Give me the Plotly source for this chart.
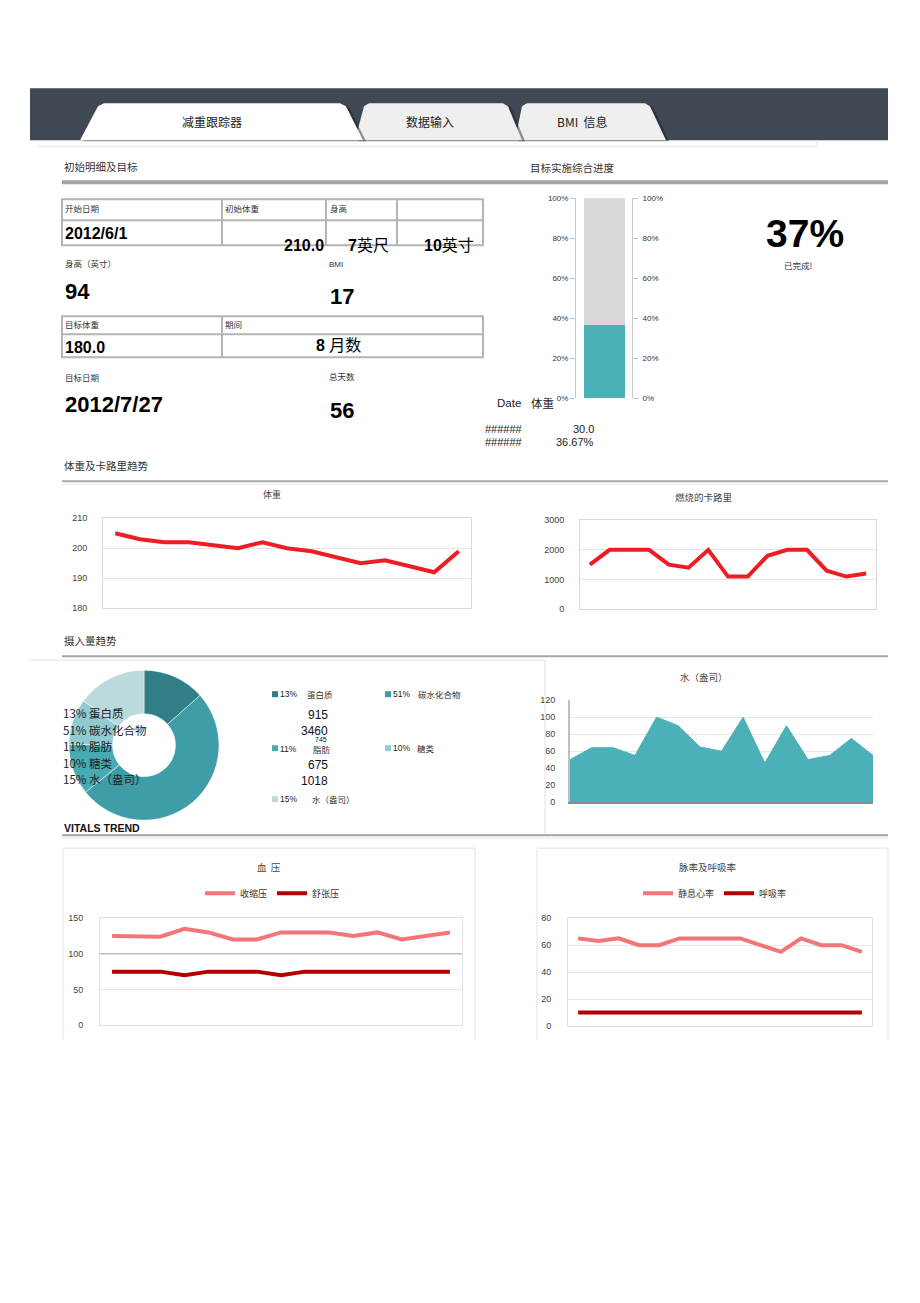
import plotly.graph_objects as go

W, H = 920, 1303
# small vertical calibration so the rendered page lines up with the reference pixels
VA, VB = 0.9925, 4.7
def X(p): return p / W
def Y(p): return 1 - ((p - VB) / VA) / H

LAT = "Liberation Sans, Arial, Noto Sans CJK SC, sans-serif"
CJK = "Noto Sans CJK SC, Liberation Sans, sans-serif"

# ---------------- data ----------------
progress_done = 36.67
progress_left = 100 - progress_done
pct_ticks = [0, 20, 40, 60, 80, 100]
pct_text = ["0%", "20%", "40%", "60%", "80%", "100%"]

day_idx = list(range(15))
weight = [205, 203, 202, 202, 201, 200, 202, 200, 199, 197, 195, 196, 194, 192, 199]
calories = [1500, 2000, 2000, 2000, 1500, 1400, 2000, 1100, 1100, 1800, 2000, 2000, 1300, 1100, 1200]

intake_labels = ["蛋白质", "碳水化合物", "脂肪", "糖类", "水（盎司）"]
intake_values = [915, 3460, 745, 675, 1018]
intake_pct = ["13%", "51%", "11%", "10%", "15%"]
intake_colors = ["#317e86", "#3e9da6", "#48abb4", "#8fcbd0", "#bcd9dd"]

water = [50, 64, 64, 55, 100, 90, 65, 60, 100, 46, 90, 50, 55, 75, 55]
systolic = [125, 125, 124, 135, 130, 120, 120, 130, 130, 130, 125, 130, 120, 125, 130]
diastolic = [75, 75, 75, 70, 75, 75, 75, 70, 75, 75, 75, 75, 75, 75, 75]
heart_rate = [65, 63, 65, 60, 60, 65, 65, 65, 65, 60, 55, 65, 60, 60, 55]
resp_rate = [10, 10, 10, 10, 10, 10, 10, 10, 10, 10, 10, 10, 10, 10, 10]

TEAL = "#4bb0b8"
RED = "#ee1d23"
SALMON = "#f47577"
DARKRED = "#b00000"

fig = go.Figure()

# progress bar
fig.add_trace(go.Bar(x=[0], y=[progress_done], width=0.73, marker=dict(color=TEAL, line=dict(width=0)),
                     xaxis="x", yaxis="y", showlegend=False, hoverinfo="skip"))
fig.add_trace(go.Bar(x=[0], y=[progress_left], width=0.73, marker=dict(color="#d9d9d9", line=dict(width=0)),
                     xaxis="x", yaxis="y", showlegend=False, hoverinfo="skip"))
fig.add_trace(go.Scatter(x=[0], y=[0], mode="markers", marker=dict(opacity=0), xaxis="x", yaxis="y7",
                         showlegend=False, hoverinfo="skip"))

# weight / calories
fig.add_trace(go.Scatter(x=day_idx, y=weight, mode="lines", line=dict(color=RED, width=4),
                         xaxis="x2", yaxis="y2", showlegend=False))
fig.add_trace(go.Scatter(x=day_idx, y=calories, mode="lines", line=dict(color=RED, width=4),
                         xaxis="x3", yaxis="y3", showlegend=False))

# intake donut
fig.add_trace(go.Pie(values=intake_values, labels=intake_labels, hole=0.42, sort=False, direction="clockwise",
                     rotation=0, marker=dict(colors=intake_colors, line=dict(color="white", width=0.5)),
                     textinfo="none", showlegend=False,
                     domain=dict(x=[X(69), X(219)], y=[Y(820), Y(670)])))

# water area
fig.add_trace(go.Scatter(x=day_idx, y=water, mode="lines", fill="tozeroy", fillcolor=TEAL,
                         line=dict(color=TEAL, width=1), xaxis="x4", yaxis="y4", showlegend=False))

# blood pressure
fig.add_trace(go.Scatter(x=day_idx, y=systolic, mode="lines", name="收缩压", line=dict(color=SALMON, width=4),
                         xaxis="x5", yaxis="y5", legend="legend"))
fig.add_trace(go.Scatter(x=day_idx, y=diastolic, mode="lines", name="舒张压", line=dict(color=DARKRED, width=4),
                         xaxis="x5", yaxis="y5", legend="legend"))
# pulse / respiration
fig.add_trace(go.Scatter(x=day_idx, y=heart_rate, mode="lines", name="静息心率", line=dict(color=SALMON, width=4),
                         xaxis="x6", yaxis="y6", legend="legend2"))
fig.add_trace(go.Scatter(x=day_idx, y=resp_rate, mode="lines", name="呼吸率", line=dict(color=DARKRED, width=4),
                         xaxis="x6", yaxis="y6", legend="legend2"))

# ---------------- axes ----------------
def xax(d0, d1, rng, anchor, line=True, lc="#d9d9d9", lw=1, mirror=True):
    return dict(domain=[X(d0), X(d1)], range=rng, anchor=anchor, showticklabels=False, ticks="",
                showgrid=False, zeroline=False, showline=line, linecolor=lc, linewidth=lw, mirror=mirror,
                fixedrange=True)

def yax(top, bottom, rng, dtick, anchor, standoff, lc="#d9d9d9", lw=1, mirror=True, line=True):
    return dict(domain=[Y(bottom), Y(top)], range=rng, dtick=dtick, anchor=anchor, showgrid=True,
                gridcolor="#e6e6e6", gridwidth=1, zeroline=False, showline=line, linecolor=lc, linewidth=lw,
                mirror=mirror, ticks="", ticklabelstandoff=standoff,
                tickfont=dict(size=9, color="#404040", family=LAT), fixedrange=True)

layout_axes = dict(
    xaxis=dict(domain=[X(576), X(632)], range=[-0.509, 0.491], anchor="y", visible=False, fixedrange=True),
    yaxis=dict(domain=[Y(398), Y(198)], range=[0, 100], anchor="x", tickvals=pct_ticks, ticktext=pct_text,
               showline=True, linecolor="#c8c8c8", linewidth=1, ticks="outside", ticklen=5, tickcolor="#c8c8c8",
               showgrid=False, zeroline=False, tickfont=dict(size=8, color="#333", family=LAT), fixedrange=True),
    yaxis7=dict(overlaying="y", side="right", anchor="x", range=[0, 100], tickvals=pct_ticks, ticktext=pct_text,
                showline=True, linecolor="#c8c8c8", linewidth=1, ticks="outside", ticklen=5, tickcolor="#c8c8c8",
                showgrid=False, zeroline=False, ticklabelstandoff=3,
                tickfont=dict(size=8, color="#333", family=LAT), fixedrange=True),
    xaxis2=xax(103, 471, [-0.5, 14.5], "y2"),
    yaxis2=yax(518, 608, [180, 210], 10, "x2", 13),
    xaxis3=xax(580, 876, [-0.5, 14.5], "y3"),
    yaxis3=yax(520, 609, [0, 3000], 1000, "x3", 13),
    xaxis4=xax(570, 873, [0, 14], "y4", lc="#8c8c8c", lw=2, mirror=False),
    yaxis4=yax(700, 802, [0, 120], 20, "x4", 11, lc="#bfbfbf", lw=2, mirror=False),
    xaxis5=xax(100, 462, [-0.5, 14.5], "y5", lc="#e0e0e0"),
    yaxis5=yax(918, 1025, [0, 150], 50, "x5", 14, lc="#e0e0e0"),
    xaxis6=xax(568, 872, [-0.5, 14.5], "y6", lc="#e0e0e0"),
    yaxis6=yax(918, 1026, [0, 80], 20, "x6", 14, lc="#e0e0e0"),
)

# ---------------- shapes ----------------
shapes = []
def line(x0, y0, x1, y1, color, width=1):
    shapes.append(dict(type="line", xref="paper", yref="paper", x0=X(x0), y0=Y(y0), x1=X(x1), y1=Y(y1),
                       line=dict(color=color, width=width)))

def rect(x0, y0, x1, y1, fill="rgba(0,0,0,0)", color="rgba(0,0,0,0)", width=0):
    shapes.append(dict(type="rect", xref="paper", yref="paper", x0=X(x0), y0=Y(y1), x1=X(x1), y1=Y(y0),
                       fillcolor=fill, line=dict(color=color, width=width)))

def poly(pts, fill, color="rgba(0,0,0,0)", width=0):
    p = "M " + " L ".join(f"{X(a):.5f},{Y(b):.5f}" for a, b in pts) + " Z"
    shapes.append(dict(type="path", xref="paper", yref="paper", path=p, fillcolor=fill,
                       line=dict(color=color, width=width)))

# header band & tabs
rect(30, 88, 888, 140, fill="#3e4953")
tab3 = [(515, 140), (522, 106), (527, 103), (645, 103), (650, 106), (666, 140)]
tab2 = [(355, 140), (364, 106), (369, 103), (503, 103), (508, 106), (522, 140)]
tab1 = [(80, 140), (98, 106), (104, 103), (340, 103), (346, 106), (363, 140)]
for t, f in [(tab3, "#efefef"), (tab2, "#efefef"), (tab1, "#ffffff")]:
    poly([(a + 3, b + 1) for a, b in t], "rgba(20,25,30,0.45)")
    poly(t, f)
line(38, 146, 817, 146, "#e3e3e3", 1)
line(817, 140, 817, 146, "#e3e3e3", 1)

# section separators
line(62, 182, 888, 182, "#a6a6a6", 4)
line(62, 481, 888, 481, "#a6a6a6", 2)
line(62, 484, 888, 484, "#e6e6e6", 1)
line(62, 656, 888, 656, "#a6a6a6", 2)
line(30, 660, 545, 660, "#e0e0e0", 1)
line(545, 660, 545, 835, "#e0e0e0", 1)
line(62, 835, 888, 835, "#a6a6a6", 2)
line(62, 838, 888, 838, "#e6e6e6", 1)

# tables
TB = "#b4b4b4"
rect(62, 199, 483, 245, color=TB, width=2)
line(62, 220, 483, 220, TB, 2)
for xv in (222, 326, 397):
    line(xv, 199, xv, 245, TB, 2)
rect(62, 316, 483, 357, color=TB, width=2)
line(62, 334, 483, 334, TB, 2)
line(222, 316, 222, 357, TB, 2)

# chart boxes (vitals)
for x0, x1 in [(63, 475), (537, 888)]:
    line(x0, 848, x1, 848, "#e3e3e3", 1)
    line(x0, 848, x0, 1040, "#e3e3e3", 1)
    line(x1, 848, x1, 1040, "#e3e3e3", 1)
# darker 100 reference line in blood-pressure chart
shapes.append(dict(type="line", xref="x5 domain", yref="y5", x0=0, x1=1, y0=100, y1=100,
                   line=dict(color="#bdbdbd", width=1.5)))

# legend squares for intake
sq_pos = [(272, 694), (385, 694), (272, 748), (385, 748), (272, 799)]
for (sx, sy), c in zip(sq_pos, intake_colors):
    rect(sx, sy - 3, sx + 6, sy + 3, fill=c)

# ---------------- annotations ----------------
ann = []
def txt(x, y, s, size, anchor="left", color="#000", family=CJK):
    ann.append(dict(x=X(x), y=Y(y), xref="paper", yref="paper", text=s, showarrow=False, xanchor=anchor,
                    yanchor="middle", font=dict(size=size, color=color, family=family), borderpad=0))

# tabs
txt(212, 121, "减重跟踪器", 12, "center", "#222")
txt(430, 121, "数据输入", 12, "center", "#222")
txt(582, 121, "BMI  信息", 12, "center", "#222")

# section titles
txt(63, 166, "初始明细及目标", 10.5, color="#333")
txt(529, 167, "目标实施综合进度", 10.5, color="#333")
txt(63, 465, "体重及卡路里趋势", 10.5, color="#333")
txt(63, 640, "摄入量趋势", 10.5, color="#333")

# table 1
SM = "#333"
txt(64, 208, "开始日期", 8.5, color=SM)
txt(224, 208, "初始体重", 8.5, color=SM)
txt(329, 208, "身高", 8.5, color=SM)
txt(64, 233, "<b>2012/6/1</b>", 16, family=LAT)
txt(325, 245, "<b>210.0</b>", 16, "right", family=LAT)
txt(390, 245, "<b>7</b>英尺", 16, "right", family=LAT)
txt(475, 245, "<b>10</b>英寸", 16, "right", family=LAT)

txt(64, 263, "身高（英寸）", 8.5, color=SM)
txt(328, 264, "BMI", 8, color=SM, family=LAT)
txt(64, 291, "<b>94</b>", 22, family=LAT)
txt(329, 296, "<b>17</b>", 22, family=LAT)

# table 2
txt(64, 324, "目标体重", 8.5, color=SM)
txt(224, 324, "期间", 8.5, color=SM)
txt(64, 347, "<b>180.0</b>", 16, family=LAT)
txt(338, 345, "<b>8</b> 月数", 16, "center", family=LAT)

txt(64, 377, "目标日期", 8.5, color=SM)
txt(328, 376, "总天数", 8.5, color=SM)
txt(64, 404, "<b>2012/7/27</b>", 22, family=LAT)
txt(329, 410, "<b>56</b>", 22, family=LAT)

# progress side texts
txt(496, 403, "Date", 11.5, color="#222", family=LAT)
txt(530, 403, "体重", 11.5, color="#222")
txt(524, 429, "######", 11, "right", "#222", LAT)
txt(595, 429, "30.0", 11, "right", "#222", LAT)
txt(524, 442, "######", 11, "right", "#222", LAT)
txt(595, 442, "36.67%", 11, "right", "#222", LAT)

txt(805, 233, "<b>37%</b>", 39, "center", family=LAT)
txt(798, 265, "已完成!", 8.5, "center", SM)

# chart titles
txt(272, 494, "体重", 9, "center", "#444")
txt(703, 497, "燃烧的卡路里", 9.5, "center", "#444")
txt(704, 677, "水（盎司）", 9.5, "center", "#444")
txt(269, 867, "血  压", 9.5, "center", "#444")
txt(708, 867, "脉率及呼吸率", 9.5, "center", "#444")

# donut overlay labels
for i, (p, lab) in enumerate(zip(intake_pct, intake_labels)):
    txt(62, 713 + i * 16.5, f"{p} {lab}", 11.5, color="#222")

# intake legend texts
txt(279, 694, intake_pct[0], 8.5, color="#222", family=LAT)
txt(306, 694, intake_labels[0], 8.5, color="#333")
txt(392, 694, intake_pct[1], 8.5, color="#222", family=LAT)
txt(417, 694, intake_labels[1], 8.5, color="#333")
txt(329, 715, str(intake_values[0]), 12, "right", "#111", LAT)
txt(329, 731, str(intake_values[1]), 12, "right", "#111", LAT)
txt(328, 739.5, str(intake_values[2]), 7, "right", "#111", LAT)
txt(279, 749, intake_pct[2], 8.5, color="#222", family=LAT)
txt(312, 749, intake_labels[2], 8.5, color="#333")
txt(392, 748, intake_pct[3], 8.5, color="#222", family=LAT)
txt(416, 748, intake_labels[3], 8.5, color="#333")
txt(329, 765, str(intake_values[3]), 12, "right", "#111", LAT)
txt(329, 781, str(intake_values[4]), 12, "right", "#111", LAT)
txt(279, 799, intake_pct[4], 8.5, color="#222", family=LAT)
txt(311, 799, intake_labels[4], 8.5, color="#333")

txt(63, 828, "<b>VITALS TREND</b>", 10.5, color="#111", family=LAT)

fig.update_layout(
    width=W, height=H, margin=dict(l=0, r=0, t=0, b=0, pad=0),
    paper_bgcolor="white", plot_bgcolor="white",
    barmode="stack", bargap=0, hovermode=False,
    font=dict(family=LAT, color="#333"),
    shapes=shapes, annotations=ann,
    legend=dict(x=X(200), y=Y(893), xanchor="left", yanchor="middle", orientation="h",
                bgcolor="rgba(0,0,0,0)", font=dict(size=9, family=CJK, color="#333"),
                itemwidth=30, tracegroupgap=0, traceorder="normal"),
    legend2=dict(x=X(638), y=Y(893), xanchor="left", yanchor="middle", orientation="h",
                 bgcolor="rgba(0,0,0,0)", font=dict(size=9, family=CJK, color="#333"),
                 itemwidth=30, tracegroupgap=0, traceorder="normal"),
    **layout_axes,
)

fig.write_html("out.html")
